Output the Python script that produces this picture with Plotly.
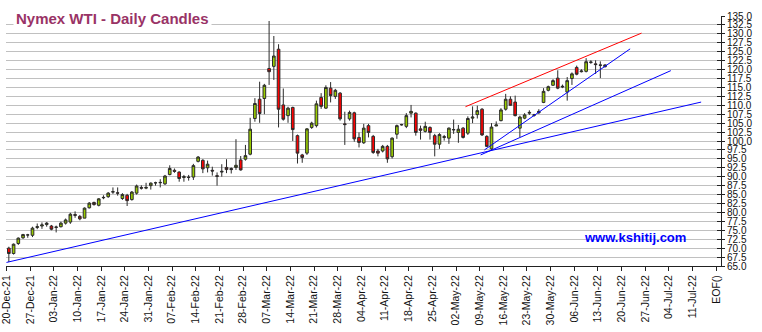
import numpy as np
import pandas as pd
import plotly.graph_objects as go

# Daily sessions start on this Monday; every weekday gets one candle
first_session = "2021-12-20"
last_week_label = "2022-07-11"

opens = [70.0, 68.5, 71.3, 72.9, 73.7, 73.6, 75.8, 76.2, 76.6, 76.2,
         75.8, 76.0, 77.0, 77.3, 79.4, 78.9, 78.4, 81.3, 82.8, 82.0,
         84.1, 84.4, 85.7, 85.5, 83.9, 84.8, 83.6, 85.4, 87.0, 86.8,
         87.5, 88.3, 88.3, 88.0, 90.6, 91.8, 91.3, 89.8, 89.9, 89.9,
         94.3, 94.6, 92.5, 91.8, 90.3, 91.3, 92.6, 92.3, 92.6, 94.7,
         94.9, 96.3, 106.3, 111.7, 111.9, 120.3, 120.9, 125.7, 110.1, 107.1,
         109.4, 101.5, 96.1, 96.6, 103.8, 104.3, 112.2, 109.2, 114.8, 112.5,
         113.4, 104.8, 106.2, 107.9, 101.0, 99.5, 104.3, 101.3, 97.2, 97.2,
         98.5, 95.6, 101.9, 104.5, 104.1, 107.8, 107.8, 103.4, 102.7, 103.8,
         101.5, 99.1, 101.0, 100.8, 103.1, 102.4, 103.6, 102.2, 106.4, 107.4,
         108.9, 101.3, 97.8, 104.2, 105.7, 108.9, 111.7, 110.9, 103.6, 106.4,
         107.8, 107.2, 107.9, 110.8, 114.2, 115.6, 117.6, 115.1, 113.7, 117.5,
         120.6, 119.4, 119.5, 122.0, 121.6, 121.3, 120.8]
highs = [70.4, 71.3, 73.0, 74.0, 74.0, 76.0, 76.9, 77.2, 77.3, 76.5,
         76.3, 77.4, 78.3, 79.9, 80.3, 79.3, 81.4, 82.9, 83.0, 84.0,
         84.8, 85.7, 87.0, 87.0, 85.4, 85.2, 86.0, 87.8, 87.6, 88.3,
         88.4, 88.6, 89.3, 90.5, 93.2, 92.3, 91.5, 90.5, 90.5, 93.6,
         95.8, 94.9, 94.5, 92.8, 91.2, 93.5, 94.9, 92.6, 100.5, 95.8,
         98.9, 106.5, 112.0, 116.6, 116.0, 133.6, 129.4, 127.1, 114.7, 109.6,
         109.6, 101.8, 96.4, 103.6, 105.4, 111.3, 113.4, 115.6, 116.5, 114.6,
         113.7, 108.2, 108.5, 108.2, 102.4, 104.8, 104.8, 101.7, 97.8, 98.9,
         98.9, 101.0, 104.6, 104.8, 107.8, 110.1, 108.0, 104.3, 105.4, 104.1,
         102.0, 102.2, 101.7, 103.8, 106.0, 104.5, 103.9, 106.9, 109.7, 109.9,
         109.2, 101.6, 105.0, 105.5, 109.2, 113.2, 112.5, 112.7, 107.1, 107.8,
         108.6, 107.6, 108.9, 114.8, 115.5, 117.3, 119.8, 115.8, 117.9, 119.2,
         121.1, 120.1, 123.2, 122.6, 122.6, 122.3, 121.5]
lows = [66.1, 68.2, 70.9, 72.6, 72.9, 73.1, 75.3, 75.4, 76.0, 75.0,
        74.4, 75.8, 76.6, 76.8, 78.5, 77.8, 78.4, 81.1, 81.9, 81.7,
        83.7, 84.1, 85.2, 84.7, 83.5, 81.8, 83.3, 85.0, 86.4, 86.5,
        86.4, 87.5, 87.0, 87.7, 90.4, 91.1, 88.6, 88.6, 88.9, 89.1,
        94.0, 91.0, 91.2, 90.3, 87.5, 90.0, 91.0, 90.9, 91.9, 91.7,
        94.5, 96.0, 105.4, 105.1, 107.5, 115.7, 117.1, 103.8, 105.7, 105.1,
        100.0, 93.7, 93.9, 96.1, 103.4, 103.8, 109.0, 109.0, 110.8, 111.8,
        105.7, 98.9, 105.7, 99.8, 98.2, 99.2, 101.0, 96.4, 95.7, 96.8,
        93.9, 95.1, 100.6, 104.3, 103.6, 106.6, 101.5, 100.4, 102.4, 100.4,
        95.7, 97.8, 100.1, 99.2, 102.0, 99.5, 100.7, 101.7, 105.0, 106.3,
        101.4, 98.3, 97.5, 104.2, 105.5, 108.5, 109.9, 106.9, 101.1, 106.1,
        107.3, 106.8, 107.6, 110.6, 113.9, 115.5, 114.5, 114.8, 111.3, 115.7,
        118.4, 119.2, 119.2, 121.6, 118.8, 117.6, 120.6]
closes = [68.5, 71.1, 72.8, 73.8, 73.7, 75.6, 76.0, 76.5, 77.0, 75.3,
          75.9, 77.0, 77.9, 79.5, 79.2, 78.2, 81.2, 82.6, 82.2, 83.8,
          84.2, 85.4, 85.8, 85.4, 85.0, 83.3, 85.7, 87.4, 86.8, 87.0,
          88.2, 88.3, 88.4, 90.2, 92.3, 91.5, 89.5, 90.0, 89.8, 93.1,
          95.5, 92.2, 93.5, 91.6, 90.1, 91.5, 92.0, 92.0, 93.2, 91.9,
          95.9, 103.3, 110.5, 107.7, 115.6, 119.4, 123.8, 108.9, 106.1, 109.2,
          103.2, 96.6, 95.4, 103.4, 105.0, 110.4, 109.7, 115.0, 112.7, 114.2,
          106.2, 104.6, 108.0, 100.6, 99.6, 103.6, 102.4, 96.8, 96.6, 98.5,
          95.0, 100.8, 104.3, 104.6, 107.1, 108.3, 102.4, 103.0, 104.1, 102.4,
          99.1, 101.8, 101.2, 103.6, 103.2, 103.3, 101.0, 106.3, 106.7, 108.5,
          101.7, 98.5, 103.9, 104.5, 108.7, 111.7, 110.0, 107.1, 106.7, 107.3,
          108.0, 107.3, 108.3, 113.9, 115.2, 116.9, 114.8, 115.3, 116.9, 118.8,
          118.7, 119.6, 122.2, 122.1, 121.4, 121.2, 121.3]

# Hand-drawn trend lines: (session index, price) at each end
support_x, support_y = [-0.5, 146.3], [66.0, 110.9]
fan_mid_x, fan_mid_y = [99.7, 139.9], [96.1, 119.7]
fan_steep_x, fan_steep_y = [100.5, 131.3], [97.5, 125.8]
resistance_x, resistance_y = [96.5, 133.7], [109.6, 130.2]

sessions = pd.bdate_range(first_session, periods=len(closes))
x = np.arange(len(sessions))

week_starts = pd.date_range(first_session, last_week_label, freq="7D")
tick_text = [d.strftime("%d-%b-%y") for d in week_starts] + ["EOF()"]
tick_vals = [5 * k - 0.5 for k in range(len(tick_text))]

FONT = "Liberation Sans, Arial, sans-serif"
OUTLINE = "#2b2b2b"

fig = go.Figure()
fig.add_trace(go.Candlestick(
    x=x, open=opens, high=highs, low=lows, close=closes,
    increasing=dict(fillcolor="#99cc00", line=dict(color=OUTLINE, width=1)),
    decreasing=dict(fillcolor="#ff0000", line=dict(color=OUTLINE, width=1)),
    whiskerwidth=0, hoverinfo="skip",
))
for lx, ly, col in [(support_x, support_y, "#0000ff"),
                    (fan_mid_x, fan_mid_y, "#0000ff"),
                    (fan_steep_x, fan_steep_y, "#0000ff"),
                    (resistance_x, resistance_y, "#ff0000")]:
    fig.add_trace(go.Scatter(x=lx, y=ly, mode="lines",
                             line=dict(color=col, width=1), hoverinfo="skip"))

# Inner half of the price ticks (crossing the axis line)
fig.add_trace(go.Scatter(x=[None], y=[None], yaxis="y2", showlegend=False))

fig.update_layout(
    width=762, height=332,
    margin=dict(l=6, r=41, t=16, b=66),
    paper_bgcolor="white", plot_bgcolor="white",
    showlegend=False,
    boxgap=0.2,
    font=dict(family=FONT, size=10, color="#111111"),
    xaxis=dict(
        range=[-0.6, 150.5], rangeslider=dict(visible=False),
        tickmode="array", tickvals=tick_vals, ticktext=tick_text,
        tickangle=-90, ticks="outside", ticklen=4, tickcolor="#222222",
        tickfont=dict(size=10.5, color="#111111"),
        ticklabeloverflow="allow",
        showgrid=False, zeroline=False,
        showline=True, linecolor="#222222", linewidth=1,
        automargin=False,
    ),
    yaxis=dict(
        range=[65, 135], side="right", dtick=2.5, tick0=65,
        tickformat=".1f", ticks="outside", ticklen=3, tickcolor="#222222",
        tickfont=dict(size=10, color="#111111"),
        showgrid=True, gridcolor="#c0c0c0", gridwidth=1, zeroline=False,
        showline=True, linecolor="#222222", linewidth=1,
        automargin=False,
    ),
    yaxis2=dict(
        range=[65, 135], overlaying="y", side="right", dtick=2.5, tick0=65,
        ticks="inside", ticklen=4, tickcolor="#222222",
        showticklabels=False, showgrid=False, zeroline=False, showline=False,
    ),
    annotations=[
        dict(text="<b>Nymex WTI - Daily Candles</b>", xref="paper", yref="paper",
             x=0.0095, y=0.992, xanchor="left", yanchor="middle", showarrow=False,
             bgcolor="white", borderpad=2,
             font=dict(family=FONT, size=15, color="#993366")),
        dict(text="<b>www.kshitij.com</b>", xref="paper", yref="paper",
             x=0.88, y=0.116, xanchor="center", yanchor="middle", showarrow=False,
             font=dict(family=FONT, size=13, color="#0000ff")),
    ],
)

fig.write_html("out.html")
